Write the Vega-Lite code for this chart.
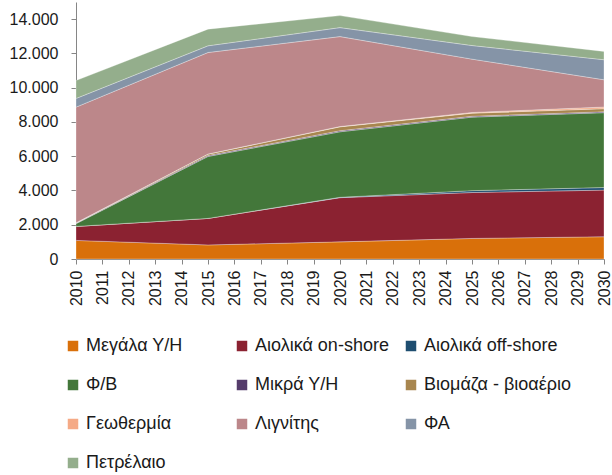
{
  "$schema": "https://vega.github.io/schema/vega-lite/v6.json",
  "width": 528,
  "height": 257,
  "autosize": {"type": "none"},
  "padding": {"left": 76, "top": 2, "right": 8, "bottom": 216},
  "background": "white",
  "config": {
    "view": {"stroke": null},
    "font": "Liberation Sans",
    "axis": {"domainColor": "#868686", "tickColor": "#868686", "labelColor": "#1a1a1a", "labelFontSize": 16, "grid": false, "title": null, "labelFont": "Liberation Sans"},
    "legend": {"labelFont": "Liberation Sans"}
  },
  "data": {
    "values": [
      {"year": 2010, "s": "Μεγάλα Υ/Η", "i": 1, "v": 1085},
      {"year": 2015, "s": "Μεγάλα Υ/Η", "i": 1, "v": 820},
      {"year": 2020, "s": "Μεγάλα Υ/Η", "i": 1, "v": 1000},
      {"year": 2025, "s": "Μεγάλα Υ/Η", "i": 1, "v": 1200},
      {"year": 2030, "s": "Μεγάλα Υ/Η", "i": 1, "v": 1300},
      {"year": 2010, "s": "Αιολικά on-shore", "i": 2, "v": 817},
      {"year": 2015, "s": "Αιολικά on-shore", "i": 2, "v": 1550},
      {"year": 2020, "s": "Αιολικά on-shore", "i": 2, "v": 2580},
      {"year": 2025, "s": "Αιολικά on-shore", "i": 2, "v": 2680},
      {"year": 2030, "s": "Αιολικά on-shore", "i": 2, "v": 2720},
      {"year": 2010, "s": "Αιολικά off-shore", "i": 3, "v": 0},
      {"year": 2015, "s": "Αιολικά off-shore", "i": 3, "v": 0},
      {"year": 2020, "s": "Αιολικά off-shore", "i": 3, "v": 20},
      {"year": 2025, "s": "Αιολικά off-shore", "i": 3, "v": 110},
      {"year": 2030, "s": "Αιολικά off-shore", "i": 3, "v": 150},
      {"year": 2010, "s": "Φ/Β", "i": 4, "v": 157},
      {"year": 2015, "s": "Φ/Β", "i": 4, "v": 3615},
      {"year": 2020, "s": "Φ/Β", "i": 4, "v": 3825},
      {"year": 2025, "s": "Φ/Β", "i": 4, "v": 4290},
      {"year": 2030, "s": "Φ/Β", "i": 4, "v": 4370},
      {"year": 2010, "s": "Μικρά Υ/Η", "i": 5, "v": 30},
      {"year": 2015, "s": "Μικρά Υ/Η", "i": 5, "v": 50},
      {"year": 2020, "s": "Μικρά Υ/Η", "i": 5, "v": 60},
      {"year": 2025, "s": "Μικρά Υ/Η", "i": 5, "v": 50},
      {"year": 2030, "s": "Μικρά Υ/Η", "i": 5, "v": 50},
      {"year": 2010, "s": "Βιομάζα - βιοαέριο", "i": 6, "v": 20},
      {"year": 2015, "s": "Βιομάζα - βιοαέριο", "i": 6, "v": 90},
      {"year": 2020, "s": "Βιομάζα - βιοαέριο", "i": 6, "v": 230},
      {"year": 2025, "s": "Βιομάζα - βιοαέριο", "i": 6, "v": 180},
      {"year": 2030, "s": "Βιομάζα - βιοαέριο", "i": 6, "v": 180},
      {"year": 2010, "s": "Γεωθερμία", "i": 7, "v": 0},
      {"year": 2015, "s": "Γεωθερμία", "i": 7, "v": 0},
      {"year": 2020, "s": "Γεωθερμία", "i": 7, "v": 15},
      {"year": 2025, "s": "Γεωθερμία", "i": 7, "v": 40},
      {"year": 2030, "s": "Γεωθερμία", "i": 7, "v": 100},
      {"year": 2010, "s": "Λιγνίτης", "i": 8, "v": 6755},
      {"year": 2015, "s": "Λιγνίτης", "i": 8, "v": 5927},
      {"year": 2020, "s": "Λιγνίτης", "i": 8, "v": 5250},
      {"year": 2025, "s": "Λιγνίτης", "i": 8, "v": 3115},
      {"year": 2030, "s": "Λιγνίτης", "i": 8, "v": 1590},
      {"year": 2010, "s": "ΦΑ", "i": 9, "v": 504},
      {"year": 2015, "s": "ΦΑ", "i": 9, "v": 390},
      {"year": 2020, "s": "ΦΑ", "i": 9, "v": 525},
      {"year": 2025, "s": "ΦΑ", "i": 9, "v": 794},
      {"year": 2030, "s": "ΦΑ", "i": 9, "v": 1170},
      {"year": 2010, "s": "Πετρέλαιο", "i": 10, "v": 1048},
      {"year": 2015, "s": "Πετρέλαιο", "i": 10, "v": 974},
      {"year": 2020, "s": "Πετρέλαιο", "i": 10, "v": 700},
      {"year": 2025, "s": "Πετρέλαιο", "i": 10, "v": 525},
      {"year": 2030, "s": "Πετρέλαιο", "i": 10, "v": 485}
    ]
  },
  "mark": {"type": "area", "stroke": "#ffffff", "strokeWidth": 0.6, "strokeOpacity": 0.5},
  "encoding": {
    "x": {
      "field": "year", "type": "quantitative",
      "scale": {"domain": [2010, 2030], "nice": false, "zero": false},
      "axis": {
        "values": [2010,2011,2012,2013,2014,2015,2016,2017,2018,2019,2020,2021,2022,2023,2024,2025,2026,2027,2028,2029,2030],
        "format": "d", "labelAngle": 270, "labelAlign": "right", "labelBaseline": "middle",
        "tickSize": 5, "labelPadding": 6, "labelFlush": false, "labelOverlap": false
      }
    },
    "y": {
      "field": "v", "type": "quantitative", "stack": "zero",
      "scale": {"domain": [0, 15000], "nice": false},
      "axis": {
        "values": [0, 2000, 4000, 6000, 8000, 10000, 12000, 14000],
        "labelExpr": "replace(format(datum.value, ','), ',', '.')",
        "tickSize": 5, "labelPadding": 13
      }
    },
    "order": {"field": "i", "type": "quantitative", "sort": "ascending"},
    "color": {
      "field": "s", "type": "nominal",
      "sort": ["Μεγάλα Υ/Η", "Αιολικά on-shore", "Αιολικά off-shore", "Φ/Β", "Μικρά Υ/Η", "Βιομάζα - βιοαέριο", "Γεωθερμία", "Λιγνίτης", "ΦΑ", "Πετρέλαιο"],
      "scale": {
        "domain": ["Μεγάλα Υ/Η", "Αιολικά on-shore", "Αιολικά off-shore", "Φ/Β", "Μικρά Υ/Η", "Βιομάζα - βιοαέριο", "Γεωθερμία", "Λιγνίτης", "ΦΑ", "Πετρέλαιο"],
        "range": ["#D9700A", "#8B2231", "#1E4E70", "#43773A", "#553C6B", "#A8864F", "#F5AA86", "#BC878A", "#8594A7", "#94AE8C"]
      },
      "legend": {
        "title": null, "orient": "none", "legendX": -12, "legendY": 335,
        "direction": "horizontal", "columns": 3, "gridAlign": "all",
        "symbolType": "square", "symbolSize": 110, "symbolStrokeWidth": 0,
        "labelFontSize": 18, "labelColor": "#1a1a1a", "labelOffset": 4,
        "columnPadding": -4, "rowPadding": 21, "labelLimit": 250
      }
    }
  }
}
